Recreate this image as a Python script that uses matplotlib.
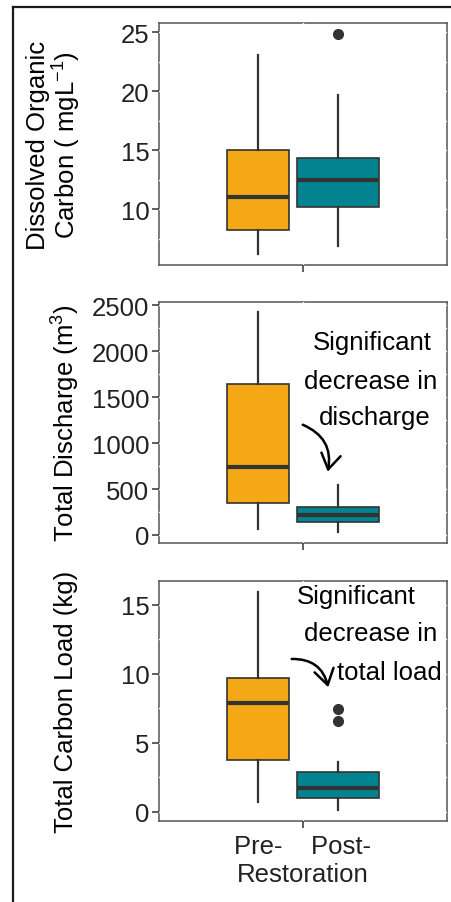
import matplotlib
matplotlib.use('Agg')
import matplotlib.pyplot as plt
from matplotlib.patches import FancyArrowPatch
from matplotlib.lines import Line2D
from matplotlib.ticker import MultipleLocator

plt.rcParams['font.family'] = ['Liberation Sans', 'DejaVu Sans']
plt.rcParams['mathtext.fontset'] = 'custom'
plt.rcParams['mathtext.rm'] = 'Liberation Sans'
plt.rcParams['mathtext.it'] = 'Liberation Sans:italic'

# ── data: [whisker low, Q1, median, Q3, whisker high] ──
doc_pre = [6.2, 8.2, 11.0, 15.05, 23.1]
doc_post = [6.9, 10.2, 12.5, 14.3, 19.7]
doc_pre_out = []
doc_post_out = [24.9]

dis_pre = [65, 348, 736, 1641, 2421]
dis_post = [29, 138, 217, 308, 543]
dis_pre_out = []
dis_post_out = []

load_pre = [0.68, 3.77, 7.87, 9.7, 15.97]
load_post = [0.15, 0.97, 1.72, 2.86, 3.58]
load_pre_out = []
load_post_out = [6.6, 7.45]

doc_ticks = [10, 15, 20, 25]
dis_ticks = [0, 500, 1000, 1500, 2000, 2500]
load_ticks = [0, 5, 10, 15]

x_label = 'Pre-    Post-\nRestoration'

# ── style ─────────────────────────────────────────────────────────────────────
ORANGE = '#F5A816'
TEAL = '#03838F'
DARK = '#333333'
FS = 18.5

fig = plt.figure(figsize=(4.51, 9.03), dpi=100)
fig.patch.set_facecolor('white')

# outer frame (left + top edge of the original figure box)
fig.add_artist(Line2D([12.5 / 451, 12.5 / 451], [0, 1 - 8 / 903], color='#1a1a1a',
                      lw=1.6, transform=fig.transFigure))
fig.add_artist(Line2D([12.5 / 451, 1], [1 - 8 / 903, 1 - 8 / 903], color='#1a1a1a',
                      lw=1.6, transform=fig.transFigure))

left, width = 159 / 451, 288 / 451
panel_rects = [
    (left, 1 - 266 / 903, width, 242 / 903),
    (left, 1 - 544 / 903, width, 240.7 / 903),
    (left, 1 - 822.3 / 903, width, 240.6 / 903),
]


def make_stats(vals, out):
    return dict(whislo=vals[0], q1=vals[1], med=vals[2], q3=vals[3],
                whishi=vals[4], fliers=out)


def box_panel(ax, pre, post, pre_out, post_out, ylim, ticks, minor):
    stats = [make_stats(pre, pre_out), make_stats(post, post_out)]
    bp = ax.bxp(stats, positions=[0.8125, 1.146], widths=[0.258, 0.342],
                patch_artist=True, showcaps=False,
                boxprops=dict(edgecolor=DARK, linewidth=1.2),
                whiskerprops=dict(color=DARK, linewidth=1.6),
                medianprops=dict(color=DARK, linewidth=3.0),
                flierprops=dict(marker='o', markerfacecolor=DARK,
                                markeredgecolor=DARK, markersize=7))
    for patch, c in zip(bp['boxes'], [ORANGE, TEAL]):
        patch.set_facecolor(c)
    ax.set_xlim(0.4, 1.6)
    ax.set_ylim(*ylim)
    ax.set_yticks(ticks)
    ax.yaxis.set_minor_locator(MultipleLocator(minor))
    ax.set_xticks([1])
    ax.set_xticks([], minor=True)
    ax.tick_params(axis='both', which='major', length=5, width=1.1, color=DARK,
                   labelsize=FS, labelcolor='#222222', pad=2)
    ax.tick_params(axis='x', which='major', pad=4)
    ax.tick_params(axis='both', which='minor', length=0)
    # white grid lines drawn over the border, as in the reference
    ax.set_axisbelow(True)
    ax.grid(True, which='both', axis='y', color='white', linewidth=1.0)
    ax.grid(True, which='major', axis='x', color='white', linewidth=1.0)
    for sp in ax.spines.values():
        sp.set_color('#555555')
        sp.set_linewidth(1.1)
        sp.set_zorder(0.4)


def curved_arrow(ax, start, end):
    ax.add_patch(FancyArrowPatch(start, end, connectionstyle='arc3,rad=-0.4',
                                 arrowstyle='->,head_length=0.55,head_width=0.35',
                                 mutation_scale=20, shrinkA=0, shrinkB=0,
                                 color='black', lw=1.8, zorder=5))


# ── 1. Dissolved organic carbon ───────────────────────────────────────────────
ax1 = fig.add_axes(panel_rects[0])
box_panel(ax1, doc_pre, doc_post, doc_pre_out, doc_post_out, (5.25, 25.8), doc_ticks, 2.5)
ax1.set_xticklabels([''])
ax1.set_ylabel('Dissolved Organic\nCarbon ( mgL$^{-1}$)', fontsize=FS, va='center',
               linespacing=1.05)
ax1.yaxis.set_label_coords(-0.362, 0.5)

# ── 2. Total discharge ────────────────────────────────────────────────────────
ax2 = fig.add_axes(panel_rects[1])
box_panel(ax2, dis_pre, dis_post, dis_pre_out, dis_post_out, (-87, 2530), dis_ticks, 250)
ax2.set_xticklabels([''])
ax2.set_ylabel('Total Discharge (m$^{3}$)', fontsize=FS, va='center')
ax2.yaxis.set_label_coords(-0.323, 0.5)
ax2.text(1.2875, 2098, 'Significant', ha='center', va='center', fontsize=FS)
ax2.text(1.2825, 1677, 'decrease in', ha='center', va='center', fontsize=FS)
ax2.text(1.30, 1283, 'discharge', ha='center', va='center', fontsize=FS)
curved_arrow(ax2, (0.999, 1199), (1.103, 688))

# ── 3. Total carbon load ──────────────────────────────────────────────────────
ax3 = fig.add_axes(panel_rects[2])
box_panel(ax3, load_pre, load_post, load_pre_out, load_post_out, (-0.70, 16.76), load_ticks, 2.5)
ax3.set_xticklabels([x_label], linespacing=1.2)
ax3.set_ylabel('Total Carbon Load (kg)', fontsize=FS, va='center')
ax3.yaxis.set_label_coords(-0.323, 0.5)
ax3.text(1.224, 15.67, 'Significant', ha='center', va='center', fontsize=FS)
ax3.text(1.283, 12.97, 'decrease in', ha='center', va='center', fontsize=FS)
ax3.text(1.358, 10.16, 'total load', ha='center', va='center', fontsize=FS)
curved_arrow(ax3, (0.953, 11.08), (1.105, 9.03))

fig.savefig('out.png', dpi=100, facecolor='white')
